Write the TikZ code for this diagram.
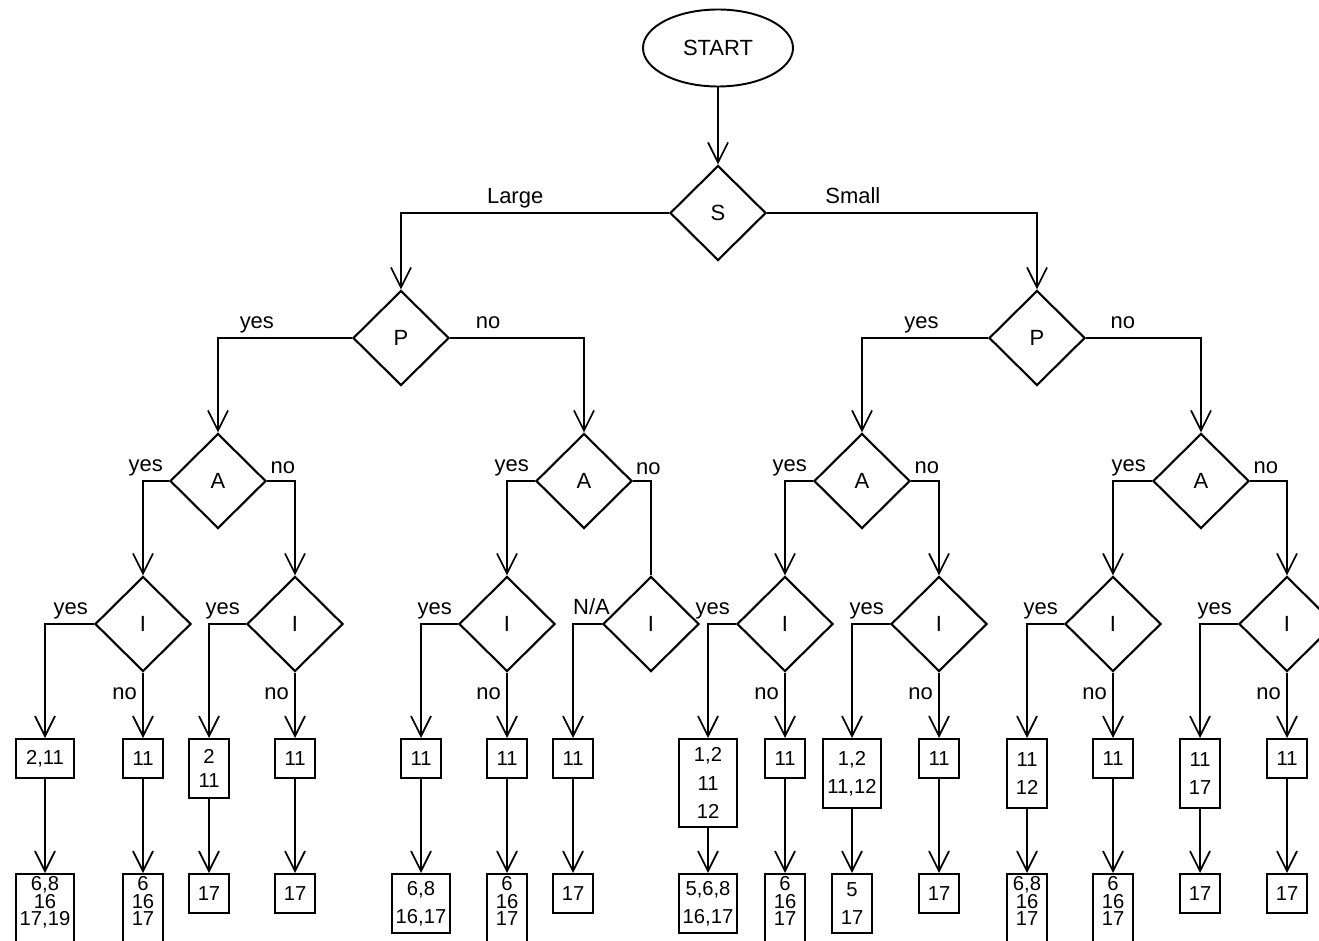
\documentclass[tikz,border=0pt]{standalone}
\usepackage{fontspec}
\setmainfont{Liberation Sans}
\usetikzlibrary{shapes.geometric,arrows.meta}

\begin{document}
\begin{tikzpicture}[
  x=0.2mm, y=-0.2mm,
  terminal/.style={ellipse, draw, line width=1.1pt, minimum width=3cm, minimum height=1.54cm, font=\fontsize{12.5}{15}\selectfont},
  decision/.style={diamond, draw, line width=1.2pt, minimum width=1.92cm, minimum height=1.9cm, inner sep=0pt, font=\fontsize{12.5}{15}\selectfont},
  cell/.style={rectangle, draw, line width=1.1pt, anchor=north, minimum width=0.8cm, minimum height=0.78cm, inner sep=1.5pt, align=center, font=\fontsize{11.5}{16}\selectfont},
  wide/.style={cell, minimum width=1.17cm},
  tight/.style={font=\fontsize{11.5}{10}\selectfont},
  arrow/.style={-{Straight Barb[length=4mm, width=4mm]}, line width=1pt},
  answer/.style={font=\fontsize{12.5}{15}\selectfont, inner sep=3pt, text height=0.72em, text depth=0.21em},
]
\useasboundingbox (0,0) rectangle (1319,941);
\clip (0,0) rectangle (1319,941);

% === Start and size ===
\node[terminal] (start) at (718,48) {START};
\node[decision] (S) at (718,213) {S};

% === P level ===
\node[decision] (pL) at (401,338) {P};
\node[decision] (pR) at (1037,338) {P};

% === A level ===
\node[decision] (a1) at (218,481) {A};
\node[decision] (a2) at (584,481) {A};
\node[decision] (a3) at (862,481) {A};
\node[decision] (a4) at (1201,481) {A};

% === I level ===
\node[decision] (i1) at (143,624) {I};
\node[decision] (i2) at (295,624) {I};
\node[decision] (i3) at (507,624) {I};
\node[decision] (i4) at (651,624) {I};
\node[decision] (i5) at (785,624) {I};
\node[decision] (i6) at (939,624) {I};
\node[decision] (i7) at (1113,624) {I};
\node[decision] (i8) at (1287,624) {I};

% === first row of boxes ===
\node[wide] (box1) at (45,738) {2,11};
\node[cell] (box2) at (143,738) {11};
\node[cell, minimum height=1.18cm, font=\fontsize{11.5}{14}\selectfont] (box3) at (209,738) {2\\11};
\node[cell] (box4) at (295,738) {11};
\node[cell] (box5) at (421,738) {11};
\node[cell] (box6) at (507,738) {11};
\node[cell] (box7) at (573,738) {11};
\node[wide, minimum height=1.76cm] (box8) at (708,738) {1,2\\11\\12};
\node[cell] (box9) at (785,738) {11};
\node[wide, minimum height=1.38cm] (box10) at (852,738) {1,2\\11,12};
\node[cell] (box11) at (939,738) {11};
\node[cell, minimum height=1.38cm] (box12) at (1027,738) {11\\12};
\node[cell] (box13) at (1113,738) {11};
\node[cell, minimum height=1.38cm] (box14) at (1200,738) {11\\17};
\node[cell] (box15) at (1287,738) {11};

% === second row of boxes ===
\node[wide, tight] (end1) at (45,873) {6,8\\16\\17,19\rule[-22pt]{0pt}{22pt}};
\node[cell, tight] (end2) at (143,873) {6\\16\\17\rule[-22pt]{0pt}{22pt}};
\node[cell] (end3) at (209,873) {17};
\node[cell] (end4) at (295,873) {17};
\node[wide, minimum height=1.18cm] (end5) at (421,873) {6,8\\16,17};
\node[cell, tight] (end6) at (507,873) {6\\16\\17\rule[-22pt]{0pt}{22pt}};
\node[cell] (end7) at (573,873) {17};
\node[wide, minimum height=1.18cm] (end8) at (708,873) {5,6,8\\16,17};
\node[cell, tight] (end9) at (785,873) {6\\16\\17\rule[-22pt]{0pt}{22pt}};
\node[cell, minimum height=1.18cm] (end10) at (852,873) {5\\17};
\node[cell] (end11) at (939,873) {17};
\node[cell, tight] (end12) at (1027,873) {6,8\\16\\17\rule[-22pt]{0pt}{22pt}};
\node[cell, tight] (end13) at (1113,873) {6\\16\\17\rule[-22pt]{0pt}{22pt}};
\node[cell] (end14) at (1200,873) {17};
\node[cell] (end15) at (1287,873) {17};

% === connectors ===
\draw[arrow] (start) -- (S);
\draw[arrow] (S.west) -| node[answer, pos=0.287, above] {Large} (pL);
\draw[arrow] (S.east) -| node[answer, pos=0.159, above] {Small} (pR);

\draw[arrow] (pL.west) -| node[answer, pos=0.355, above] {yes} (a1);
\draw[arrow] (pL.east) -| node[answer, pos=0.142, above] {no} (a2);
\draw[arrow] (pR.west) -| node[answer, pos=0.264, above] {yes} (a3);
\draw[arrow] (pR.east) -| node[answer, pos=0.16, above] {no} (a4);

\draw[arrow] (a1.west) -| node[answer, pos=0, above left] {yes} (i1);
\draw[arrow] (a1.east) -| node[answer, pos=0, above right, inner sep=1.5pt] {no} (i2);
\draw[arrow] (a2.west) -| node[answer, pos=0, above left] {yes} (i3);
\draw (a2.east) -| node[answer, pos=0, above right, inner sep=1.5pt] {no} (i4) [line width=1pt];
\draw[arrow] (a3.west) -| node[answer, pos=0, above left] {yes} (i5);
\draw[arrow] (a3.east) -| node[answer, pos=0, above right, inner sep=1.5pt] {no} (i6);
\draw[arrow] (a4.west) -| node[answer, pos=0, above left] {yes} (i7);
\draw[arrow] (a4.east) -| node[answer, pos=0, above right, inner sep=1.5pt] {no} (i8);

\draw[arrow] (i1.west) -| node[answer, pos=0, above left] {yes} (box1);
\draw[arrow] (i1) -- node[answer, pos=0.34, left] {no} (box2);
\draw[arrow] (i2.west) -| node[answer, pos=0, above left] {yes} (box3);
\draw[arrow] (i2) -- node[answer, pos=0.34, left] {no} (box4);
\draw[arrow] (i3.west) -| node[answer, pos=0, above left] {yes} (box5);
\draw[arrow] (i3) -- node[answer, pos=0.34, left] {no} (box6);
\draw[arrow] (i4.west) -| node[answer, pos=0, above left, xshift=2.8mm] {N/A} (box7);
\draw[arrow] (i5.west) -| node[answer, pos=0, above left] {yes} (box8);
\draw[arrow] (i5) -- node[answer, pos=0.34, left] {no} (box9);
\draw[arrow] (i6.west) -| node[answer, pos=0, above left] {yes} (box10);
\draw[arrow] (i6) -- node[answer, pos=0.34, left] {no} (box11);
\draw[arrow] (i7.west) -| node[answer, pos=0, above left] {yes} (box12);
\draw[arrow] (i7) -- node[answer, pos=0.34, left] {no} (box13);
\draw[arrow] (i8.west) -| node[answer, pos=0, above left] {yes} (box14);
\draw[arrow] (i8) -- node[answer, pos=0.34, left] {no} (box15);

\draw[arrow] (box1) -- (end1);
\draw[arrow] (box2) -- (end2);
\draw[arrow] (box3) -- (end3);
\draw[arrow] (box4) -- (end4);
\draw[arrow] (box5) -- (end5);
\draw[arrow] (box6) -- (end6);
\draw[arrow] (box7) -- (end7);
\draw[arrow] (box8) -- (end8);
\draw[arrow] (box9) -- (end9);
\draw[arrow] (box10) -- (end10);
\draw[arrow] (box11) -- (end11);
\draw[arrow] (box12) -- (end12);
\draw[arrow] (box13) -- (end13);
\draw[arrow] (box14) -- (end14);
\draw[arrow] (box15) -- (end15);

\end{tikzpicture}
\end{document}
